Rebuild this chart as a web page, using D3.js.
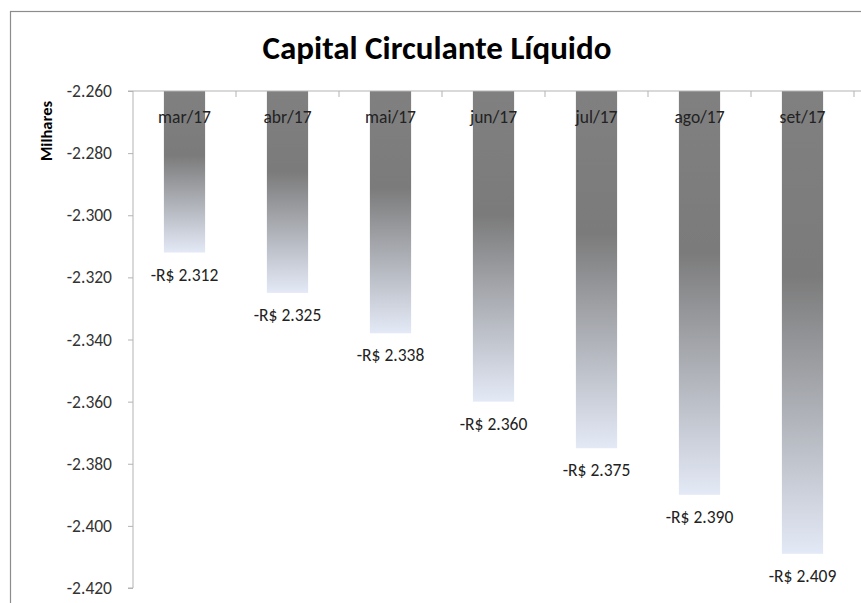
<!DOCTYPE html>
<html>
<head>
<meta charset="utf-8">
<script src="https://cdnjs.cloudflare.com/ajax/libs/d3/7.8.5/d3.min.js"></script>
<style>
  body { margin: 0; background: #fff; }
  text { font-family: Carlito, Lato, "Liberation Sans", sans-serif; }
</style>
</head>
<body>
<div id="chart"></div>
<script>
var months = ["mar/17", "abr/17", "mai/17", "jun/17", "jul/17", "ago/17", "set/17"];
var values = [-2312, -2325, -2338, -2360, -2375, -2390, -2409];
var yTicks = [-2260, -2280, -2300, -2320, -2340, -2360, -2380, -2400, -2420];

var width = 861, height = 603;
var margin = {top: 91, left: 133, right: 7, bottom: 15};

var svg = d3.select("#chart").append("svg").attr("width", width).attr("height", height);

// outer chart frame
svg.append("rect").attr("x", 10.5).attr("y", 11.5).attr("width", 900).attr("height", 700)
   .attr("fill", "none").attr("stroke", "#8c8c8c").attr("stroke-width", 1.2);

var ptFmt = d3.formatLocale({decimal: ",", thousands: ".", grouping: [3], currency: ["R$ ", ""], minus: "-"});
var fmt = ptFmt.format(",d");

var x = d3.scaleBand().domain(months).range([margin.left, width - margin.right]).paddingInner(0.6).paddingOuter(0.3);
var xTicks = d3.scaleBand().domain(months).range([margin.left, width - margin.right]);
var y = d3.scaleLinear().domain([-2260, -2420]).range([margin.top, 588]);

var defs = svg.append("defs");
var grad = defs.append("linearGradient").attr("id", "barGrad").attr("x1", 0).attr("y1", 0).attr("x2", 0).attr("y2", 1);
grad.append("stop").attr("offset", "0%").attr("stop-color", "#808080");
grad.append("stop").attr("offset", "40%").attr("stop-color", "#7b7b7b");
grad.append("stop").attr("offset", "100%").attr("stop-color", "#e3e9f6");

svg.append("g").selectAll("rect").data(values).enter().append("rect")
   .attr("x", function(d, i) { return x(months[i]); })
   .attr("y", y(-2260))
   .attr("width", x.bandwidth())
   .attr("height", function(d) { return y(d) - y(-2260); })
   .attr("fill", "url(#barGrad)");

// y axis
var yAxis = svg.append("g").attr("transform", "translate(" + margin.left + ",0)")
   .call(d3.axisLeft(y).tickValues(yTicks).tickSize(5).tickPadding(16).tickFormat(function(d) { return fmt(d); }));
yAxis.selectAll("path, line").attr("stroke", "#b3b3b3");
yAxis.select(".domain").attr("d", "M-5," + y(-2260) + "H0V" + y(-2420) + "H-5");
yAxis.selectAll("text").attr("font-size", 17.5).attr("fill", "#333").attr("font-family", "Carlito, Lato, sans-serif");

// top category axis
var xAxis = svg.append("g").attr("transform", "translate(0," + margin.top + ")");
xAxis.append("line").attr("x1", margin.left).attr("x2", width).attr("y1", 0).attr("y2", 0).attr("stroke", "#b3b3b3");
xAxis.selectAll("line.tk").data(months).enter().append("line").attr("class", "tk")
   .attr("x1", function(d) { return xTicks(d) + xTicks.bandwidth(); })
   .attr("x2", function(d) { return xTicks(d) + xTicks.bandwidth(); })
   .attr("y1", 0).attr("y2", 6).attr("stroke", "#b3b3b3");
xAxis.selectAll("text").data(months).enter().append("text")
   .attr("x", function(d) { return x(d) + x.bandwidth() / 2; })
   .attr("y", 32)
   .attr("text-anchor", "middle").attr("font-size", 17.5).attr("fill", "#222")
   .text(function(d) { return d; });

// value labels
svg.append("g").selectAll("text").data(values).enter().append("text")
   .attr("x", function(d, i) { return x(months[i]) + x.bandwidth() / 2; })
   .attr("y", function(d) { return y(d) + 28; })
   .attr("text-anchor", "middle").attr("font-size", 17.5).attr("fill", "#222")
   .text(function(d) { return "-R$ " + fmt(Math.abs(d)); });

svg.append("text").attr("x", 437).attr("y", 59).attr("text-anchor", "middle")
   .attr("font-size", 33).attr("font-weight", "bold").attr("fill", "#000")
   .text("Capital Circulante Líquido");

svg.append("text").attr("transform", "translate(52,131) rotate(-90)").attr("text-anchor", "middle")
   .attr("font-size", 16.5).attr("font-weight", "bold").attr("fill", "#000")
   .text("Milhares");
</script>
</body>
</html>
